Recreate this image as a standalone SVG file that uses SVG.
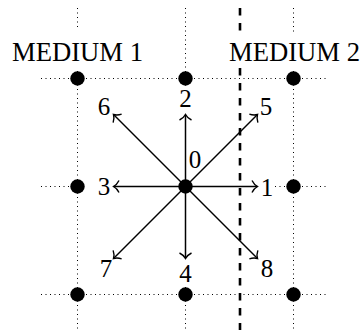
<svg xmlns="http://www.w3.org/2000/svg" width="363" height="335" viewBox="0 0 363 335">
<style>
.grid{stroke:#000;stroke-width:1;stroke-dasharray:1 3.5;fill:none}
.bound{stroke:#000;stroke-width:2.6;stroke-dasharray:7.5 7.5;fill:none}
.mask{fill:#fff;stroke:none}
.arr{stroke:#000;stroke-width:1.5;fill:none;marker-end:url(#to)}
.pt{fill:#000}
text{font-family:'Liberation Serif','DejaVu Serif',serif;fill:#000;text-anchor:middle}
.lbl{font-size:25px}
.med{font-size:26.5px}
</style>
<defs>
<marker id="to" markerUnits="userSpaceOnUse" markerWidth="16" markerHeight="16" viewBox="-8 -8 16 16" refX="0" refY="0" orient="auto">
<path d="M -5.5,-6 C -4,-3 -1.5,-0.8 0,0 C -1.5,0.8 -4,3 -5.5,6" stroke="#000" stroke-width="1.4" fill="none"/>
</marker>
</defs>
<g id="grid">
<line class="grid" x1="41" y1="78.5" x2="327" y2="78.5"/>
<line class="grid" x1="41" y1="186.5" x2="327" y2="186.5"/>
<line class="grid" x1="41" y1="294.5" x2="327" y2="294.5"/>
<line class="grid" x1="77.5" y1="8" x2="77.5" y2="330"/>
<line class="grid" x1="185.5" y1="8" x2="185.5" y2="330"/>
<line class="grid" x1="293.5" y1="8" x2="293.5" y2="330"/>
</g>
<g id="boundary">
<line class="bound" x1="240" y1="8" x2="240" y2="330"/>
</g>
<g id="masks">
<rect class="mask" x="8" y="30" width="139" height="39"/>
<rect class="mask" x="226" y="33" width="136" height="35"/>
<rect class="mask" x="86" y="170" width="30" height="33"/>
<rect class="mask" x="256" y="170" width="18" height="33"/>
<rect class="mask" x="170" y="87" width="31" height="27"/>
<rect class="mask" x="170" y="259" width="31" height="28"/>
</g>
<g id="connectors">
<line class="arr" x1="185.5" y1="186.5" x2="257.5" y2="186.5"/>
<line class="arr" x1="185.5" y1="186.5" x2="185.5" y2="114.5"/>
<line class="arr" x1="185.5" y1="186.5" x2="113.5" y2="186.5"/>
<line class="arr" x1="185.5" y1="186.5" x2="185.5" y2="258.5"/>
<line class="arr" x1="185.5" y1="186.5" x2="257.5" y2="114.5"/>
<line class="arr" x1="185.5" y1="186.5" x2="113.5" y2="114.5"/>
<line class="arr" x1="185.5" y1="186.5" x2="113.5" y2="258.5"/>
<line class="arr" x1="185.5" y1="186.5" x2="257.5" y2="258.5"/>
</g>
<g id="n-tl"><circle class="pt" cx="77.5" cy="78.5" r="7.2"/></g>
<g id="n-tc"><circle class="pt" cx="185.5" cy="78.5" r="7.2"/></g>
<g id="n-tr"><circle class="pt" cx="293.5" cy="78.5" r="7.2"/></g>
<g id="n-ml"><circle class="pt" cx="77.5" cy="186.5" r="7.2"/></g>
<g id="n-c"><circle class="pt" cx="185.5" cy="186.5" r="7.2"/></g>
<g id="n-mr"><circle class="pt" cx="293.5" cy="186.5" r="7.2"/></g>
<g id="n-bl"><circle class="pt" cx="77.5" cy="294.5" r="7.2"/></g>
<g id="n-bc"><circle class="pt" cx="185.5" cy="294.5" r="7.2"/></g>
<g id="n-br"><circle class="pt" cx="293.5" cy="294.5" r="7.2"/></g>
<g id="medium1"><text class="med" x="77.5" y="61" textLength="131" lengthAdjust="spacingAndGlyphs">MEDIUM 1</text></g>
<g id="medium2"><text class="med" x="294.5" y="61" textLength="131" lengthAdjust="spacingAndGlyphs">MEDIUM 2</text></g>
<g id="labels">
<text class="lbl" x="195" y="168">0</text>
<text class="lbl" x="267" y="196">1</text>
<text class="lbl" x="185.5" y="107">2</text>
<text class="lbl" x="104" y="195">3</text>
<text class="lbl" x="185.5" y="282">4</text>
<text class="lbl" x="266" y="115">5</text>
<text class="lbl" x="104" y="115">6</text>
<text class="lbl" x="106" y="277">7</text>
<text class="lbl" x="267" y="277">8</text>
</g>
</svg>
